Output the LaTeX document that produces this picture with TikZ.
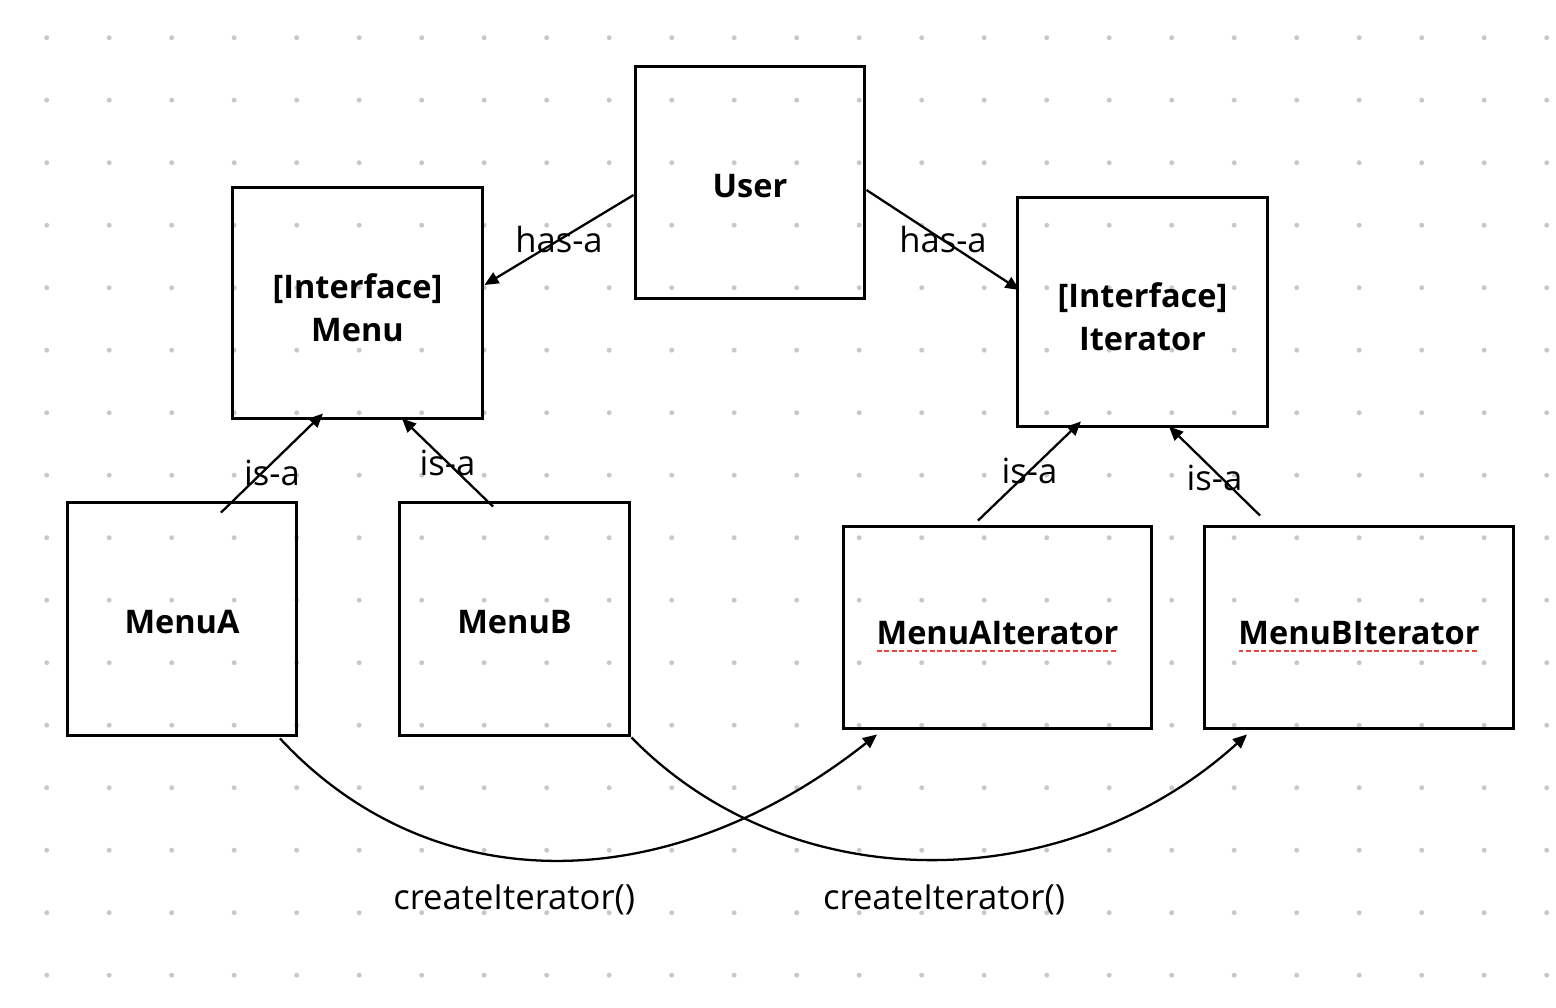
\documentclass[tikz,border=0pt]{standalone}
\usepackage{fontspec}
\setmainfont{Open Sans}
\usetikzlibrary{arrows.meta,calc}
\definecolor{dotgray}{RGB}{200,200,200}
\definecolor{spellred}{RGB}{232,70,58}
\newcommand\spellul[1]{\setbox0\hbox{#1}\rlap{\usebox0}\raisebox{-0.4ex}{\textcolor{spellred}{\hbox to\wd0{\xleaders\hbox to 4.2pt{\rule{2.8pt}{1.3pt}\hss}\hfill}}}}

\begin{document}
\begin{tikzpicture}[x=0.02cm,y=-0.02cm,
  box/.style={draw,line width=1.7pt,inner sep=0pt,align=center,text height=0.6cm,font=\fontsize{18.5}{24.4}\selectfont\bfseries},
  twoline/.style={text height=44pt},
  rel/.style={line width=1.3pt,-{Triangle[length=8pt,width=7pt]}},
  lbl/.style={font=\fontsize{19.7}{23}\selectfont}]
\useasboundingbox (0,0) rectangle (1556,1008);
\fill[white] (0,0) rectangle (1556,1008);
\foreach \i in {0,...,24}
  \foreach \j in {0,...,15}
    \fill[dotgray] (46.7+62.5*\i,37.7+62.5*\j) circle[radius=1.4pt];

\node[box,minimum width=4.6cm,minimum height=4.66cm] (user) at (750,182.5) {User};
\node[box,twoline,minimum width=5.02cm,minimum height=4.64cm] (menu) at (357.5,303) {[Interface]\\Menu};
\node[box,twoline,minimum width=5.02cm,minimum height=4.6cm] (iter) at (1142.5,312) {[Interface]\\Iterator};
\node[box,minimum width=4.6cm,minimum height=4.68cm] (menua) at (182,619) {MenuA};
\node[box,minimum width=4.62cm,minimum height=4.68cm] (menub) at (514.5,619) {MenuB};
\node[box,text height=0.84cm,minimum width=6.18cm,minimum height=4.06cm] (mai) at (997.5,627.5) {\spellul{MenuAIterator}};
\node[box,text height=0.84cm,minimum width=6.2cm,minimum height=4.06cm] (mbi) at (1359,627.5) {\spellul{MenuBIterator}};

\draw[rel] ($(user.west)+(0,12.5)$) -- node[lbl,midway]{has-a} ($(menu.east)+(0,-18)$);
\draw[rel] ($(user.east)+(0,7.5)$) -- node[lbl,midway]{has-a} ($(iter.west)+(4,-22)$);
\draw[rel] ($(menua.north)+(39,12)$) -- node[lbl,midway,yshift=-0.2cm]{is-a} ($(menu.south)+(-34.5,-7)$);
\draw[rel] ($(menub.north)+(-21.5,6)$) -- node[lbl,midway]{is-a} ($(menu.south)+(44.5,-2)$);
\draw[rel] ($(mai.north)+(-19.5,-4)$) -- node[lbl,midway]{is-a} ($(iter.south)+(-61.5,-7)$);
\draw[rel] ($(mbi.north)+(-99,-9)$) -- node[lbl,midway,yshift=-0.14cm]{is-a} ($(iter.south)+(26.5,-2)$);

\draw[rel] ($(menua.south)+(98,1)$) .. controls (430,900) and (665,902) .. node[lbl,pos=0.5,xshift=-0.82cm,yshift=-0.8cm]{createIterator()} ($(mai.south)+(-120.5,4)$);
\draw[rel] (menub.south east) .. controls (790,900) and (1064,900) .. node[lbl,pos=0.5,xshift=0.28cm,yshift=-0.82cm]{createIterator()} ($(mbi.south)+(-112,4)$);

\end{tikzpicture}
\end{document}
